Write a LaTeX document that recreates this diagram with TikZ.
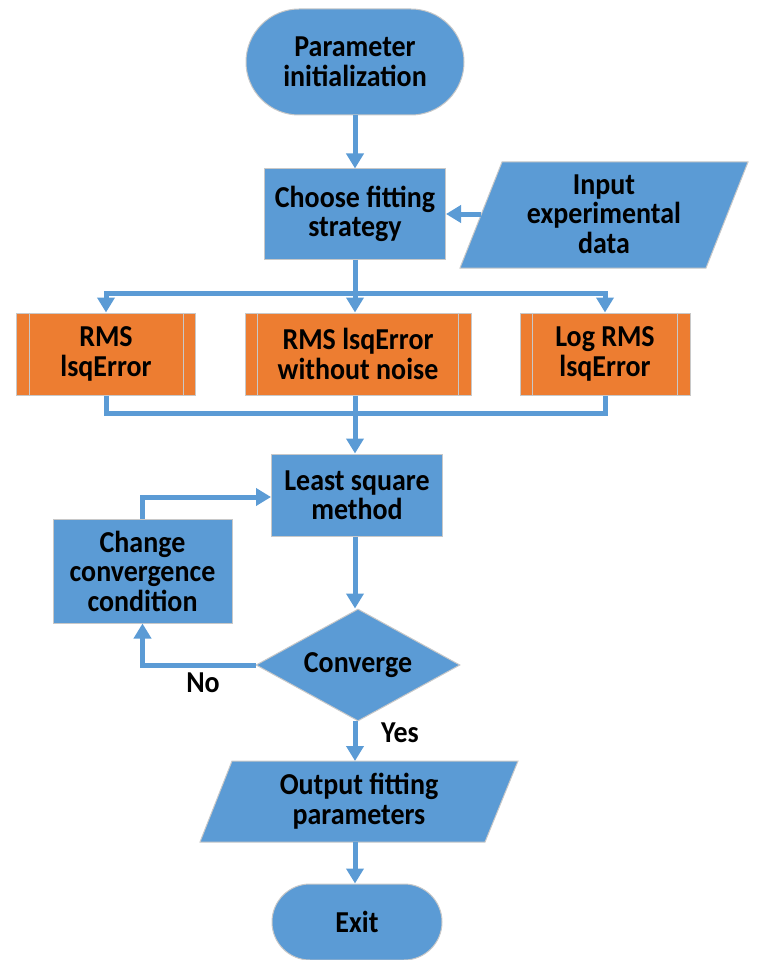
\documentclass[tikz,border=0pt]{standalone}
\usepackage{fontspec}
\setmainfont{Carlito}[FakeStretch=0.92]
\usetikzlibrary{arrows.meta,shapes.geometric,calc}
\definecolor{fblue}{HTML}{5B9BD5}
\definecolor{forange}{HTML}{ED7D31}
\definecolor{edge}{HTML}{C8C8C8}
\begin{document}
\begin{tikzpicture}[x=1pt,y=-1pt,
  txt/.style={font=\fontsize{30.4}{29.5}\selectfont\bfseries, align=center, text=black},
  bluebox/.style={txt, draw=edge, line width=1pt, fill=fblue, inner sep=0pt},
  orangebox/.style={txt, draw=edge, line width=1pt, fill=forange, inner sep=0pt, minimum height=82pt},
  term/.style={bluebox, rounded corners=#1},
  diam/.style={txt, diamond, draw=edge, line width=1pt, fill=fblue, inner sep=0pt, aspect=1.8, minimum width=204pt, minimum height=112pt},
  conn/.style={draw=fblue, line width=5pt},
  arr/.style={conn, -{Triangle[width=17pt,length=15pt]}},
  lab/.style={font=\fontsize{30.4}{29.5}\selectfont\bfseries, text=black}
]
\useasboundingbox (0,0) rectangle (770,960);

% terminator top
\node[term=53pt, minimum width=218pt, minimum height=106pt] (init) at (355,62) {Parameter\\initialization};
% choose
\node[bluebox, minimum width=181pt, minimum height=90pt] (choose) at (355,214) {Choose fitting\\strategy};
% input parallelogram
\fill[fblue] (502,162) -- (748,162) -- (706,268) -- (460,268) -- cycle;
\draw[edge, line width=1pt] (502,162) -- (748,162) -- (706,268) -- (460,268) -- cycle;
\node[txt] (indata) at (604,214) {Input\\experimental\\data};
\coordinate (inL) at (481,214);

% orange boxes
\node[orangebox, minimum width=179pt] (rms1) at (106,354) {RMS\\lsqError};
\node[orangebox, minimum width=226pt] (rms2) at (358,354) {RMS lsqError\\without noise};
\node[orangebox, minimum width=170pt] (rms3) at (605,354) {Log RMS\\lsqError};
\foreach \n in {rms1,rms2,rms3}{
  \draw[edge, line width=1pt] ([xshift=13pt]\n.north west) -- ([xshift=13pt]\n.south west);
  \draw[edge, line width=1pt] ([xshift=-13pt]\n.north east) -- ([xshift=-13pt]\n.south east);
}

% least square
\node[bluebox, minimum width=171pt, minimum height=82pt] (lsm) at (357,495) {Least square\\method};
% change convergence
\node[bluebox, minimum width=179pt, minimum height=104pt] (chg) at (142.5,571) {Change\\convergence\\condition};
% diamond
\node[diam] (conv) at (358,665) {Converge};
% output parallelogram
\fill[fblue] (232,761) -- (518,761) -- (485,842) -- (200,842) -- cycle;
\draw[edge, line width=1pt] (232,761) -- (518,761) -- (485,842) -- (200,842) -- cycle;
\node[txt] (outp) at (359,801) {Output fitting\\parameters};
% exit
\node[term=38pt, minimum width=170pt, minimum height=76pt] (exit) at (357,922) {Exit};

% connectors
\draw[arr] (init.south) -- (choose.north);
\draw[arr] (inL) -- (choose.east);
\coordinate (split) at (355,293);
\draw[conn] (choose.south) -- (split);
\draw[arr] (split) -| (rms1.north);
\draw[arr] (split) -| (rms3.north);
\draw[arr] (split) -- (split |- rms2.north);
\coordinate (merge) at (355,413);
\draw[conn] (rms1.south) |- (merge);
\draw[conn] (rms3.south) |- (merge);
\draw[conn] (merge |- rms2.south) -- (merge);
\draw[arr] (merge) -- (merge |- lsm.north);
\draw[arr] (lsm.south -| merge) -- (merge |- conv.north);
\draw[arr] (conv.west) -| (chg.south);
\draw[arr] (chg.north) |- ([yshift=-2pt]lsm.west);
\coordinate (yesS) at (355,721);
\draw[arr] (yesS) -- (355,761);
\coordinate (outS) at (355,842);
\draw[arr] (outS) -- (exit.north -| outS);

\node[lab] (no) at (203,683) {No};
\node[lab] (yes) at (400,733) {Yes};
\end{tikzpicture}
\end{document}
